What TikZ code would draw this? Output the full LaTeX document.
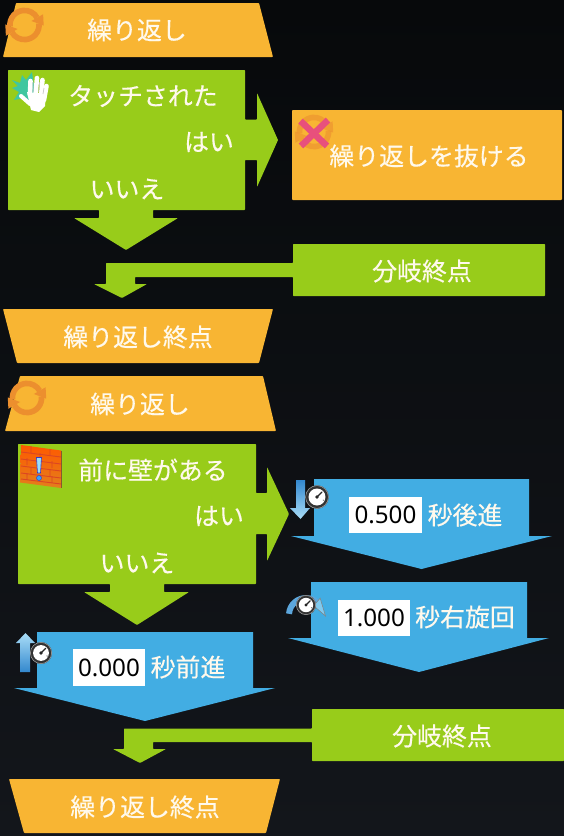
\documentclass[tikz,border=0pt]{standalone}
\usepackage{fontspec}
\newfontfamily\jpf[RawFeature={embolden=0.35}]{Noto Sans CJK JP}
\newfontfamily\numf{Noto Sans}
\definecolor{bgtop}{HTML}{07090B}
\definecolor{bgbot}{HTML}{13161B}
\definecolor{orangeblk}{HTML}{F8B533}
\definecolor{greenblk}{HTML}{98CC1A}
\definecolor{blueblk}{HTML}{42ADE3}
\definecolor{lbl}{HTML}{FFF9EC}
\definecolor{ringc}{HTML}{EC8F2E}
\definecolor{pinkx}{HTML}{E8507C}
\definecolor{burst}{HTML}{3FC7A0}
\definecolor{iconlight}{HTML}{A9DDF7}
\definecolor{icondark}{HTML}{3388CE}
\tikzset{
  orangeshape/.style={fill=orangeblk,rounded corners=0.8pt},
  greenshape/.style={fill=greenblk,rounded corners=0.6pt},
  blueshape/.style={fill=blueblk},
  lab/.style={text=lbl,inner sep=0pt,font=\jpf\fontsize{24.9}{26}\selectfont},
  num/.style={text=black,inner sep=0pt,font=\numf\fontsize{24.2}{26}\selectfont},
  valbox/.style={fill=white}
}
\newcommand{\loopico}[3]{% x,y,opacity
  \begin{scope}[shift={(#1,#2)},y=1pt,opacity=#3]
    \foreach \r in {0,180}{
      \begin{scope}[rotate=\r]
        \draw[ringc,line width=5.6pt] (185:14.6) arc (185:30:14.6);
        \fill[ringc] (30:21.5) -- (30:8) -- (19.2,-0.6) -- cycle;
      \end{scope}
    }
  \end{scope}}
\newcommand{\timerico}[3]{% x,y,r
  \begin{scope}[shift={(#1,#2)},y=1pt]
    \fill[black!80] (0,0) circle (#3);
    \draw[gray!70,line width=0.5pt] (0,0) circle (#3-0.4);
    \fill[white] (0,0) circle (#3*0.72);
    \draw[black!85,line width=1.3pt,line cap=round] (0,0) -- (#3*0.42,#3*0.42);
    \fill[black!85] (0,0) circle (#3*0.16);
    \draw[black!60,line width=0.8pt] (#3*0.5,#3*-0.25) -- (#3*0.62,#3*-0.3);
  \end{scope}}
\begin{document}
\begin{tikzpicture}[x=1pt,y=-1pt]
\useasboundingbox (0,0) rectangle (564,836);
\shade[top color=bgtop,bottom color=bgbot,middle color=bgtop!50!bgbot] (0,0) rectangle (564,836);

% --- first group ---
\fill[orangeshape] (16,3) -- (259,3) -- (273,57) -- (3,57) -- cycle;
\fill[greenshape] (8,70) -- (245,70) -- (245,119.5) -- (257,119.5) -- (257,93) -- (278,140) -- (257,187) -- (257,160) -- (245,160)
  -- (245,210) -- (153,210) -- (153,218) -- (178,218) -- (126,250) -- (74,218) -- (99,218) -- (99,210) -- (8,210) -- cycle;
\fill[orangeshape] (292,110) rectangle (562,200);
\fill[greenshape] (293,244) -- (545,244) -- (545,296) -- (293,296) -- (293,277) -- (135,277) -- (135,284) -- (147,284) -- (122,298) -- (94,284)
  -- (106,284) -- (106,263) -- (293,263) -- cycle;
\fill[orangeshape] (3,309) -- (273,309) -- (259,363) -- (17,363) -- cycle;

% --- second group ---
\fill[orangeshape] (20,376) -- (263,376) -- (276,431) -- (5,431) -- cycle;
\fill[greenshape] (18,444) -- (256,444) -- (256,493) -- (267,493) -- (267,467) -- (289,514) -- (267,561) -- (267,534) -- (256,534)
  -- (256,584) -- (164,584) -- (164,592) -- (189,592) -- (137,625) -- (84,592) -- (110,592) -- (110,584) -- (18,584) -- cycle;
\fill[blueshape] (314,479) -- (529,479) -- (529,536) -- (552,536) -- (421.5,569) -- (291,536) -- (314,536) -- cycle;
\fill[blueshape] (311,582) -- (527,582) -- (527,638) -- (549,638) -- (419,672) -- (288,638) -- (311,638) -- cycle;
\fill[blueshape] (37,632) -- (253,632) -- (253,688) -- (275,688) -- (145,721) -- (14,688) -- (37,688) -- cycle;
\fill[greenshape] (312,709) -- (564,709) -- (564,761) -- (312,761) -- (312,742) -- (153,742) -- (153,749) -- (166,749) -- (140,763) -- (113,749)
  -- (124,749) -- (124,728.5) -- (312,728.5) -- cycle;
\fill[orangeshape] (9,779) -- (280,779) -- (266,833) -- (24,833) -- cycle;

% value fields
\fill[valbox] (349,497) rectangle (422,533);
\fill[valbox] (338,600) rectangle (410,636);
\fill[valbox] (73,649) rectangle (145,686);

% --- icons ---
\loopico{24.5}{25}{1}
\loopico{27}{398}{1}
\loopico{314}{132}{0.6}
\draw[pinkx,line width=6.5pt] (300.5,121) -- (327,146);
\draw[pinkx,line width=6.5pt] (328,120) -- (301,146);

% hand with burst
\fill[burst] (12,80) -- (20,83) -- (22,75) -- (26,80) -- (32,72) -- (35,92) -- (31,103) -- (27,101) -- (24,98) -- (14,100) -- (19,92) -- (12,88) -- (18,86) -- cycle;
\begin{scope}[white,line width=4.6pt,line cap=round]
  \draw (30,95) -- (30.5,81);
  \draw (35.5,95) -- (37,78);
  \draw (41,96) -- (42.5,80);
  \draw (44,100) -- (46.5,86);
  \draw[line width=4pt] (30,104) -- (21,96);
\end{scope}
\fill[white] (27,92) -- (46,94) -- (45,106) -- (39,112) -- (31,110) -- cycle;
\draw[gray!45,line width=0.7pt] (33,82) -- (33,92) (39.7,82) -- (38.7,92) (44,88) -- (43,94);

% brick wall
\shade[top color=orange!70!red,bottom color=orange!55!brown] (21,445) -- (61,450.5) -- (61,488) -- (20,482.5) -- cycle;
\draw[red!45!brown,line width=0.9pt]
  (21,452) -- (61,457) (21,459) -- (61,464) (21,466) -- (61,471) (21,473) -- (61,478) (21,479) -- (61,484)
  (31,446) -- (31,453) (50,449) -- (50,456) (40,453) -- (40,460) (27,458) -- (27,465) (52,461) -- (52,468)
  (31,467) -- (31,474) (50,469) -- (50,476) (27,473) -- (27,480) (52,476) -- (52,483);
\draw[brown!70!black,line width=1pt] (61.5,450.5) -- (61.5,488);
\fill[cyan!40!white,draw=blue!55!gray,line width=0.6pt] (36.5,457.5) -- (41.5,457.5) -- (40.5,473) -- (37.5,473) -- cycle;
\fill[blue!45!cyan!80!white,draw=blue!50!gray,line width=0.5pt] (39,478) circle (2.5);

% down arrow + timer
\shade[top color=icondark,bottom color=iconlight] (296,480) -- (305,480) -- (305,508) -- (310,508) -- (300.5,519) -- (290,508) -- (296,508) -- cycle;
\timerico{317}{497}{11.8}
% curved arrow + timer
\begin{scope}[shift={(306,615)},y=1pt]
  \draw[icondark!65!iconlight,line width=6pt] (176:17) arc (176:48:17);
  \fill[iconlight!60!blueblk,draw=black!50,line width=0.5pt] (50:22) -- (50:12) -- (19.5,-1) -- cycle;
\end{scope}
\timerico{306}{605}{10}
% up arrow + timer
\shade[top color=iconlight,bottom color=icondark] (25.5,633) -- (35,643) -- (30,643) -- (30,672) -- (20,672) -- (20,643) -- (16,643) -- cycle;
\timerico{41}{653}{11}

% --- labels ---
\node[lab] (n1) at (137,30) {繰り返し};
\node[lab] (n2) at (143,96) {タッチされた};
\node[lab] (n3) at (209,142) {はい};
\node[lab] (n4) at (127,189) {いいえ};
\node[lab] (n5) at (429,156) {繰り返しを抜ける};
\node[lab] (n6) at (422,271) {分岐終点};
\node[lab] (n7) at (138,337) {繰り返し終点};
\node[lab] (n8) at (140,404) {繰り返し};
\node[lab] (n9) at (153,470) {前に壁がある};
\node[lab] (n10) at (219,516) {はい};
\node[lab] (n11) at (137,563) {いいえ};
\node[num] (v1) at (385.5,515) {0.500};
\node[lab] (n12) at (465,515) {秒後進};
\node[num] (v2) at (374,618) {1.000};
\node[lab] (n13) at (465,617) {秒右旋回};
\node[num] (v3) at (109,667.5) {0.000};
\node[lab] (n14) at (188,667) {秒前進};
\node[lab] (n15) at (442,736) {分岐終点};
\node[lab] (n16) at (145,807) {繰り返し終点};
\end{tikzpicture}
\end{document}
